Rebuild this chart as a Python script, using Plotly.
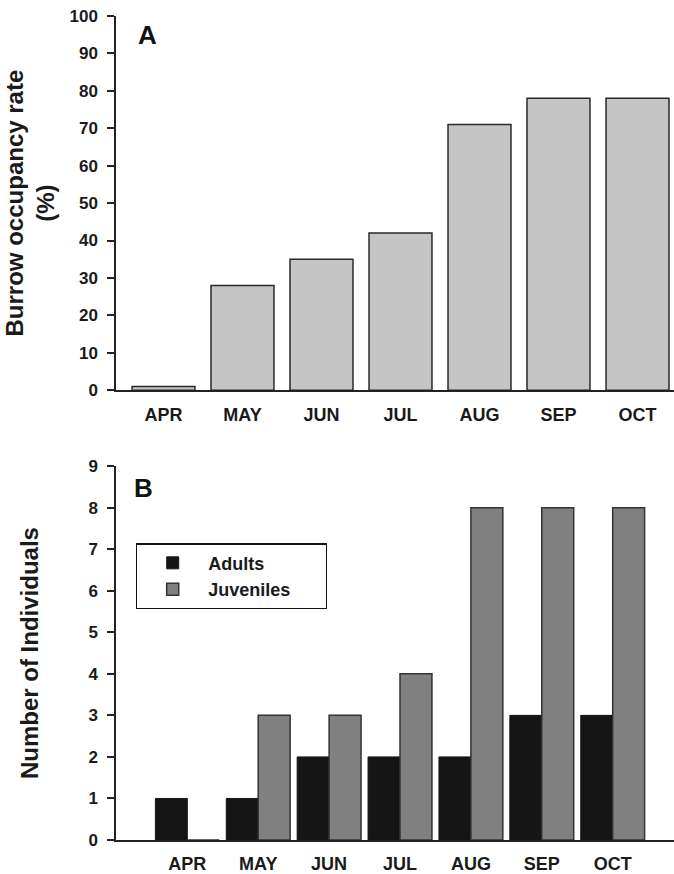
import plotly.graph_objects as go
from plotly.subplots import make_subplots

months = ["APR", "MAY", "JUN", "JUL", "AUG", "SEP", "OCT"]
occupancy = [1, 28, 35, 42, 71, 78, 78]
adults = [1, 1, 2, 2, 2, 3, 3]
juveniles = [0, 3, 3, 4, 8, 8, 8]

FONT = "Liberation Sans, Arial, sans-serif"
AX = "#222222"

fig = make_subplots(rows=2, cols=1, vertical_spacing=0.0)

fig.add_trace(go.Bar(x=months, y=occupancy, width=0.797, marker=dict(color="#c4c5c4", line=dict(color="#2a2a2a", width=1.5)),
                     showlegend=False), row=1, col=1)
fig.add_trace(go.Bar(x=months, y=adults, name="Adults", marker=dict(color="#151515", line=dict(color="#151515", width=1))), row=2, col=1)
fig.add_trace(go.Bar(x=months, y=juveniles, name="Juveniles" + "&nbsp;" * 6,
                     marker=dict(color="#808080", line=dict(color="#333333", width=1.5))), row=2, col=1)

fig.update_layout(
    width=674, height=874,
    margin=dict(l=116, r=0, t=16, b=30),
    plot_bgcolor="white", paper_bgcolor="white",
    barmode="group", bargap=0.099, bargroupgap=0,
    font=dict(family=FONT, color="#1a1a1a"),
    legend=dict(x=(136 - 116) / 558, y=(844 - 546) / 828, xanchor="left", yanchor="top",
                bordercolor="#111111", borderwidth=1.2, bgcolor="white",
                font=dict(size=18, family=FONT, weight="bold"), itemwidth=61),
    annotations=[
        dict(text="<b>A</b>", xref="paper", yref="paper", x=(136 - 116) / 558, y=(844 - 35.5) / 828,
             xanchor="left", yanchor="middle", showarrow=False, font=dict(size=26, family=FONT, color="#111")),
        dict(text="<b>B</b>", xref="paper", yref="paper", x=(132 - 116) / 558, y=(844 - 490) / 828,
             xanchor="left", yanchor="middle", showarrow=False, font=dict(size=26, family=FONT, color="#111")),
    ],
)

fig.update_xaxes(showgrid=False, zeroline=False, showline=True, linecolor=AX, linewidth=1.5, ticks="",
                 tickfont=dict(size=18, family=FONT, weight="bold"), ticklabelstandoff=7)
fig.update_yaxes(showgrid=False, zeroline=False, showline=True, linecolor=AX, linewidth=1.5, ticks="outside",
                 ticklen=7, tickwidth=1.5, tickcolor=AX, tickfont=dict(size=17, family=FONT, weight="bold"),
                 ticklabelstandoff=6)

fig.update_xaxes(range=[-0.601, 6.462], row=1, col=1)
fig.update_xaxes(range=[-1.006, 6.865], row=2, col=1)
fig.update_yaxes(range=[0, 100], dtick=10, domain=[(844 - 392) / 828, 1.0], row=1, col=1,
                 title=dict(text="<b>Burrow occupancy rate<br>(%)</b>", font=dict(size=24, family=FONT), standoff=8))
fig.update_yaxes(range=[0, 9], dtick=1, domain=[0, (844 - 468.3) / 828], row=2, col=1,
                 title=dict(text="<b>Number of Individuals</b>", font=dict(size=24, family=FONT), standoff=43))
fig.update_xaxes(domain=[0, 1])

fig.write_html("out.html", config={"displayModeBar": False},
               post_script="document.body.style.margin='0px';document.body.style.overflow='hidden';")
